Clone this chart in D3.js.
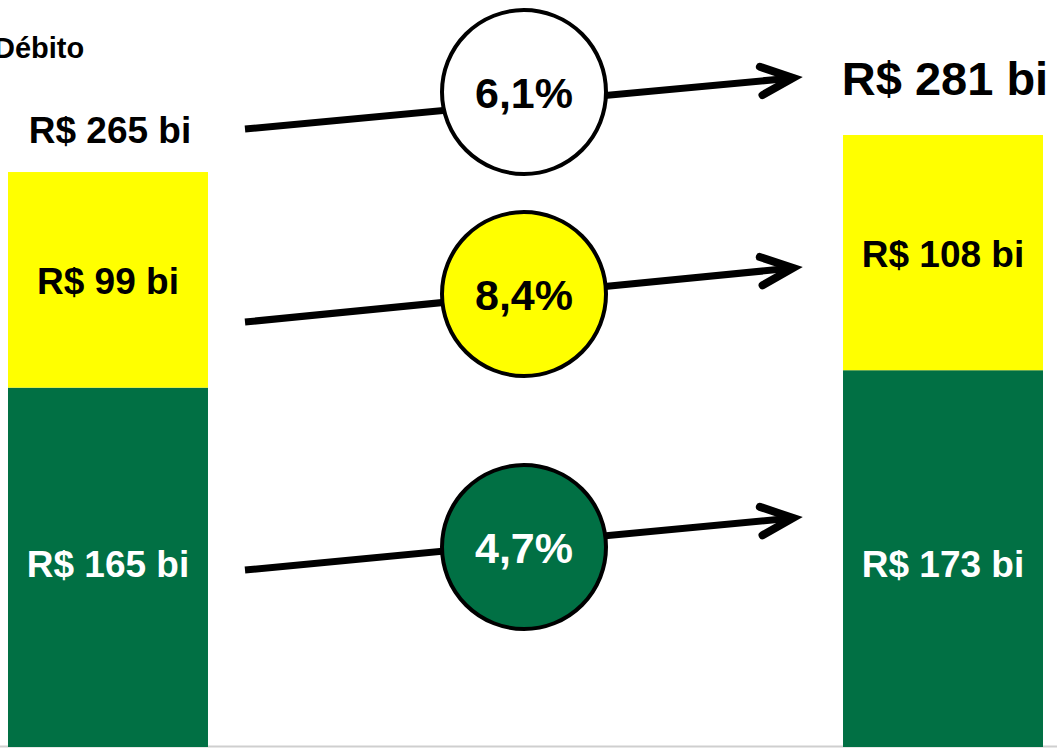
<!DOCTYPE html>
<html>
<head>
<meta charset="utf-8">
<script src="https://cdn.jsdelivr.net/npm/d3@7"></script>
<style>
  html, body { margin: 0; padding: 0; background: #fff; overflow: hidden; }
  svg { display: block; font-family: "Liberation Sans", Arial, sans-serif; font-weight: bold; }
</style>
</head>
<body>
<svg id="chart" width="1057" height="751"></svg>
<script>
// dados do gráfico (débito: antes x depois)
const columns = ["antes", "depois"];
const greenValues = [165, 173];
const yellowValues = [99, 108];
const totals = [265, 281];
const growthLabels = ["6,1%", "8,4%", "4,7%"];   // total, amarelo, verde

const GREEN = "#017044", YELLOW = "#ffff00";

const svg = d3.select("#chart");
const W = 1057, H = 751;

// escalas
const x = d3.scaleBand().domain(columns).range([8, 1043]).paddingInner(0.7605);
const y = d3.scaleLinear().domain([0, 281]).range([747, 135]);

// linha de base cinza
svg.append("line").attr("x1", 0).attr("x2", W).attr("y1", 746.5).attr("y2", 746.5)
  .attr("stroke", "#cfcfcf").attr("stroke-width", 2);

// barras empilhadas
const stack = columns.map((c, i) => ({ col: c, green: greenValues[i], yellow: yellowValues[i], total: totals[i] }));

svg.selectAll("rect.green").data(stack).enter().append("rect")
  .attr("class", "green")
  .attr("x", (d) => x(d.col)).attr("width", x.bandwidth())
  .attr("y", (d) => y(d.green)).attr("height", (d) => y(0) - y(d.green))
  .attr("fill", GREEN);

svg.selectAll("rect.yellow").data(stack).enter().append("rect")
  .attr("class", "yellow")
  .attr("x", (d) => x(d.col)).attr("width", x.bandwidth())
  .attr("y", (d) => y(d.green + d.yellow)).attr("height", (d) => y(d.green) - y(d.green + d.yellow))
  .attr("fill", YELLOW);

const fmt = (v) => "R$ " + v + " bi";

// rótulos dentro das barras
svg.selectAll("text.gl").data(stack).enter().append("text")
  .attr("x", (d) => x(d.col) + x.bandwidth() / 2)
  .attr("y", y(0) - 170)
  .attr("text-anchor", "middle").attr("font-size", 37).attr("fill", "#fff")
  .text((d) => fmt(d.green));

svg.selectAll("text.yl").data(stack).enter().append("text")
  .attr("x", (d) => x(d.col) + x.bandwidth() / 2)
  .attr("y", (d) => (y(d.green) + y(d.green + d.yellow)) / 2 + 14)
  .attr("text-anchor", "middle").attr("font-size", 37).attr("fill", "#000")
  .text((d) => fmt(d.yellow));

// totais
svg.append("text").attr("x", x("antes") + x.bandwidth() / 2 + 2).attr("y", 143)
  .attr("text-anchor", "middle").attr("font-size", 37).text(fmt(totals[0]));
svg.append("text").attr("x", x("depois") + x.bandwidth() / 2 + 2).attr("y", 95)
  .attr("text-anchor", "middle").attr("font-size", 47).text(fmt(totals[1]));

// título (cortado à esquerda, como no original)
svg.append("text").attr("x", -6).attr("y", 58).attr("font-size", 29).text("Débito");

// setas de crescimento
const x0 = x("antes") + x.bandwidth() + 37, x1 = x("depois") - 50;
const arrows = [
  { y0: 129, y1: 78, cy: 92, fill: "#fff", text: "#000", label: growthLabels[0] },
  { y0: 322, y1: 268, cy: 294, fill: YELLOW, text: "#000", label: growthLabels[1] },
  { y0: 570, y1: 518, cy: 547, fill: GREEN, text: "#fff", label: growthLabels[2] },
];

const g = svg.selectAll("g.arrow").data(arrows).enter().append("g").attr("class", "arrow");

g.append("line")
  .attr("x1", x0).attr("y1", (d) => d.y0).attr("x2", x1).attr("y2", (d) => d.y1)
  .attr("stroke", "#000").attr("stroke-width", 7);

// ponta aberta (chevron)
g.append("path")
  .attr("d", (d) => {
    const a = Math.atan2(d.y1 - d.y0, x1 - x0);
    const L = 35, s = 24 * Math.PI / 180;
    const p1 = [x1 - L * Math.cos(a - s), d.y1 - L * Math.sin(a - s)];
    const p2 = [x1 - L * Math.cos(a + s), d.y1 - L * Math.sin(a + s)];
    return `M${p1[0]},${p1[1]}L${x1},${d.y1}L${p2[0]},${p2[1]}`;
  })
  .attr("fill", "none").attr("stroke", "#000").attr("stroke-width", 8)
  .attr("stroke-linecap", "round").attr("stroke-linejoin", "miter");

const cx = 524;
g.append("circle").attr("cx", cx).attr("cy", (d) => d.cy).attr("r", 82)
  .attr("fill", (d) => d.fill).attr("stroke", "#000").attr("stroke-width", 4);

g.append("text").attr("x", cx).attr("y", (d) => d.cy + 16)
  .attr("text-anchor", "middle").attr("font-size", 43)
  .attr("fill", (d) => d.text).text((d) => d.label);
</script>
</body>
</html>
